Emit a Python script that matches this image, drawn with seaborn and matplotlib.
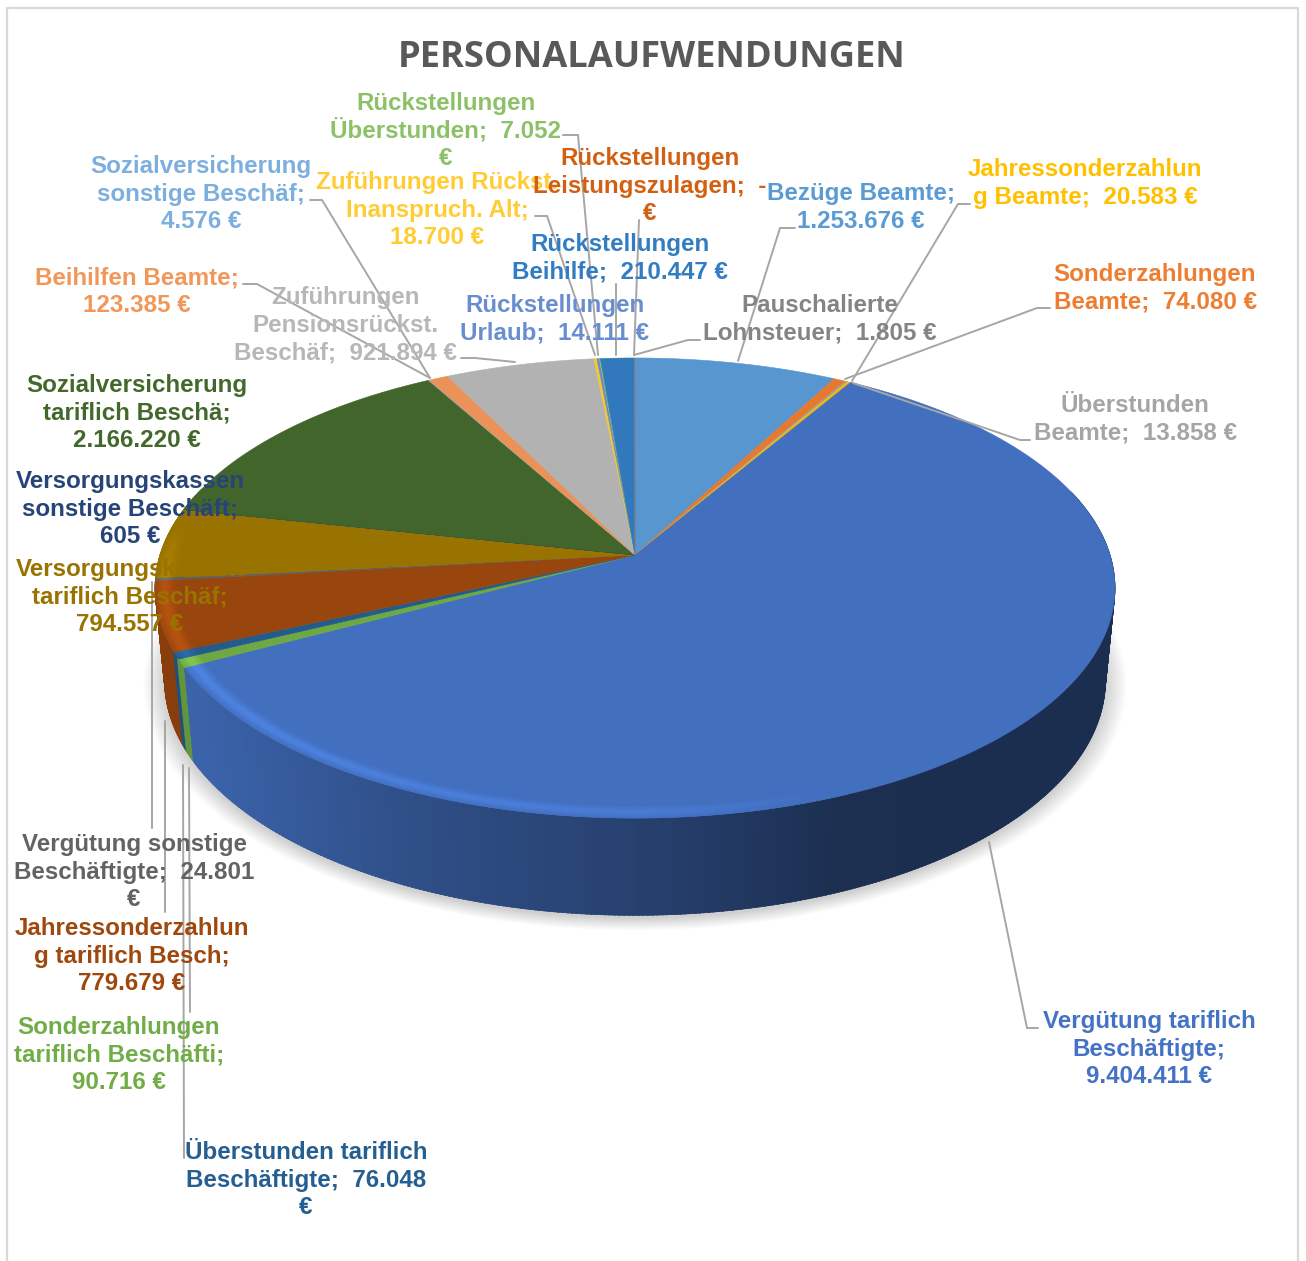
import numpy as np
import matplotlib
matplotlib.use("Agg")
import matplotlib.pyplot as plt
from matplotlib.collections import PolyCollection
from matplotlib.colors import to_rgb
import seaborn as sns

# ---------- data (clockwise from 12 o'clock) ----------
names = ["Bezüge Beamte", "Sonderzahlungen Beamte", "Überstunden Beamte", "Jahressonderzahlung Beamte",
         "Vergütung tariflich", "Sonderzahlungen tariflich", "Überstunden tariflich",
         "Jahressonderzahlung tariflich", "Vergütung sonstige", "Versorgungs tariflich",
         "Versorgungskassen sonstige", "Sozialversicherung tariflich", "Sozialversicherung sonstige",
         "Beihilfen Beamte", "Zuführungen Pensionsrückst", "Zuführungen Rückst", "Rückstellungen Urlaub",
         "Rückstellungen Überstunden", "Rückstellungen Beihilfe", "Rückstellungen Leistungszulagen",
         "Pauschalierte Lohnsteuer"]
values = [1253676, 74080, 13858, 20583, 9404411, 90716, 76048, 779679, 24801, 794557, 605,
          2166220, 4576, 123385, 921894, 18700, 14111, 7052, 210447, 0, 1805]
colors = ["#5b9bd5", "#ed7d31", "#a5a5a5", "#ffc000", "#4472c4", "#70ad47", "#255e91", "#9e480e",
          "#636363", "#997300", "#264478", "#43682b", "#7cafdd", "#f1975a", "#b7b7b7", "#ffcd33",
          "#698ed0", "#8cc168", "#327dc2", "#d26012", "#848484"]
label_texts = [
    ["Bezüge Beamte;", "1.253.676 €"],
    ["Sonderzahlungen", "Beamte;  74.080 €"],
    ["Überstunden", "Beamte;  13.858 €"],
    ["Jahressonderzahlun", "g Beamte;  20.583 €"],
    ["Vergütung tariflich", "Beschäftigte;", "9.404.411 €"],
    ["Sonderzahlungen", "tariflich Beschäfti;", "90.716 €"],
    ["Überstunden tariflich", "Beschäftigte;  76.048", "€"],
    ["Jahressonderzahlun", "g tariflich Besch;", "779.679 €"],
    ["Vergütung sonstige", "Beschäftigte;  24.801", "€"],
    ["Versorgungskassen", "tariflich Beschäf;", "794.557 €"],
    ["Versorgungskassen", "sonstige Beschäft;", "605 €"],
    ["Sozialversicherung", "tariflich Beschä;", "2.166.220 €"],
    ["Sozialversicherung", "sonstige Beschäf;", "4.576 €"],
    ["Beihilfen Beamte;", "123.385 €"],
    ["Zuführungen", "Pensionsrückst.", "Beschäf;  921.894 €"],
    ["Zuführungen Rückst.", "Inanspruch. Alt;", "18.700 €"],
    ["Rückstellungen", "Urlaub;  14.111 €"],
    ["Rückstellungen", "Überstunden;  7.052", "€"],
    ["Rückstellungen", "Beihilfe;  210.447 €"],
    ["Rückstellungen", "Leistungszulagen;  -", "€"],
    ["Pauschalierte", "Lohnsteuer;  1.805 €"],
]
title_text = "PERSONALAUFWENDUNGEN"

# ---------- layout (pixel space) ----------
label_pos = [(861, 192), (1155, 273), (1135, 404), (1085, 168), (1149, 1020), (119, 1026), (306, 1151),
             (132, 927), (134, 843), (130, 568), (130, 480), (137, 384), (201, 165), (137, 276),
             (345, 296), (437, 181), (555, 304), (446, 102), (620, 243), (650, 157), (820, 304)]
leaders = [
    [(795, 228), (780, 228), (738, 361)],
    [(1050, 308), (1037, 308), (845, 379)],
    [(1030, 440), (1020, 440), (853, 383)],
    [(970, 204), (958, 204), (852, 381)],
    [(1038, 1028), (1027, 1028), (989, 842)],
    [(190, 1012), (189, 768)],
    [(184, 1158), (183, 765)],
    [(165, 912), (165, 721)],
    [(152, 828), (152, 582)],
    [(461, 358), (475, 358), (515, 362)],
    [(310, 200), (322, 200), (430, 378)],
    [(243, 284), (257, 284), (430, 378)],
    [(535, 216), (547, 216), (595, 355)],
    [(563, 135), (578, 135), (598, 355)],
    [(616, 284), (616, 355)],
    [(639, 220), (634, 355)],
    [(700, 340), (688, 340), (634, 355)],
]
CX, CY = 635.0, 555.0
A, B, K = 475.0, 225.3, 0.1435
DEPTH, WX, WY = 92.0, 0.98, 1.02

sns.set_theme(style="white")
plt.rcParams["font.family"] = ["Liberation Sans", "DejaVu Sans"]
palette = sns.color_palette(colors)
# top-face shade; the gold slice keeps its exact colour, so its label melts into it as in the original
top_shade = [1.0 if c == "#997300" else 0.97 for c in colors]

fig = plt.figure(figsize=(13.06, 12.61), dpi=100)
ax = fig.add_axes([0, 0, 1, 1])
ax.set_xlim(0, 1306)
ax.set_ylim(1261, 0)
ax.axis("off")


def project(theta, r=1.0):
    u, v = r * np.sin(theta), r * np.cos(theta)
    w = 1 + K * v
    return A * u / w, B * v / w


vals = np.array(values, dtype=float)
edges = np.concatenate([[0], np.cumsum(vals)]) / vals.sum() * 2 * np.pi

# frame
ax.plot([7, 7, 1298, 1298], [1261, 8, 8, 1261], color="#d9d9d9", lw=1.6, zorder=1)

# soft shadow
ts = np.linspace(0, 2 * np.pi, 361)
X, Y = project(ts)
for i, s in enumerate(np.linspace(1.045, 1.0, 16)):
    ax.fill(CX + X * WX * s, CY + DEPTH + 3 - Y * WY * s, color="k", alpha=0.011, lw=0, zorder=2)

# side wall: each slice overlaps the next so no seams show
step = np.radians(0.5)
angles = np.arange(0, 2 * np.pi, step)
angles = angles[np.cos(angles) < 0.3]
angles = angles[np.argsort(np.abs(angles - np.pi))[::-1]]
for t in angles:
    t2 = t + step * 1.6
    i = min(np.searchsorted(edges, t + step / 2) - 1, len(vals) - 1)
    x1, y1 = project(t)
    x2, y2 = project(t2)
    f = np.interp(CX + x1, [160, 200, 400, 635, 850, 1115], [0.86, 0.87, 0.70, 0.57, 0.41, 0.40])
    col = tuple(np.array(to_rgb(palette[i])) * f)
    ax.fill([CX + x1, CX + x2, CX + x2 * WX, CX + x1 * WX],
            [CY - y1, CY - y2, CY + DEPTH - y2 * WY, CY + DEPTH - y1 * WY],
            facecolor=col, edgecolor=col, lw=0.5, zorder=3)

# top face
for i, v in enumerate(vals):
    if v <= 0:
        continue
    th = np.linspace(edges[i], edges[i + 1], max(3, int(np.degrees(edges[i + 1] - edges[i])) * 2))
    x, y = project(th)
    ax.fill(np.r_[CX, CX + x], np.r_[CY, CY - y], color=tuple(np.array(to_rgb(palette[i])) * top_shade[i]),
            lw=0.4, zorder=4)

# bevelled rim
step2 = np.radians(0.35)
radii = np.linspace(0.94, 1.0, 16)
rq, rc = [], []
for t in np.arange(0, 2 * np.pi, step2):
    i = min(np.searchsorted(edges, t + step2 / 2) - 1, len(vals) - 1)
    base = np.array(to_rgb(palette[i])) * top_shade[i]
    x0, _ = project(t)
    st = np.interp(CX + x0, [150, 650, 850], [1.0, 0.65, 0.0]) * np.clip((0.15 - np.cos(t)) / 0.3, 0, 1)
    if st <= 0:
        continue
    for r1, r2 in zip(radii[:-1], radii[1:]):
        rm = (r1 + r2) / 2
        s = np.exp(-((rm - 0.98) / 0.015) ** 2) * st
        col = np.clip(base * (1 + 0.2 * s), 0, 1)
        xa, ya = project(t, r1)
        xb, yb = project(t + step2, r1)
        xc, yc = project(t + step2, r2)
        xd, yd = project(t, r2)
        rq.append([(CX + xa, CY - ya), (CX + xb, CY - yb), (CX + xc, CY - yc), (CX + xd, CY - yd)])
        rc.append(tuple(col))
ax.add_collection(PolyCollection(rq, facecolors=rc, edgecolors=rc, linewidths=0.3, zorder=5))

# leader lines
for pts in leaders:
    ax.plot(*zip(*pts), color="#a6a6a6", lw=1.4, zorder=6, solid_joinstyle="miter")

# labels
for lines, (lx, ly), c in zip(label_texts, label_pos, palette):
    for j, s in enumerate(lines):
        ax.text(lx, ly + 8 + j * 27.7, s, color=c, fontsize=17.35, fontweight="bold",
                ha="center", va="baseline", zorder=7)

ax.text(652, 58, title_text, color="#595959", fontsize=26.1, fontweight="bold",
        family=["Open Sans", "DejaVu Sans"], ha="center", va="center", zorder=7)

fig.savefig("out.png", dpi=100, facecolor="white")
